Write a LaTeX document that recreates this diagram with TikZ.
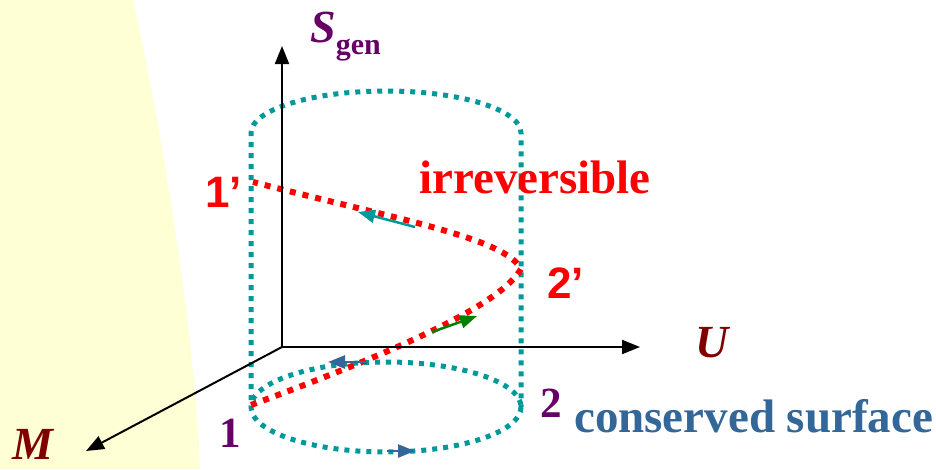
\documentclass[tikz,border=0pt]{standalone}
\usepackage{fontspec}
\setmainfont{Liberation Serif}
\newfontfamily\arialfont{Liberation Sans}
\usepackage{xcolor}
\usepackage{tikz}
\usetikzlibrary{positioning, arrows.meta, calc}

\definecolor{cylteal}{RGB}{0,153,153}
\definecolor{pathred}{RGB}{255,0,0}
\definecolor{stateviolet}{RGB}{102,0,102}
\definecolor{axisred}{RGB}{128,0,0}
\definecolor{surfblue}{RGB}{51,102,153}
\definecolor{fwdgreen}{RGB}{0,128,0}
\definecolor{paleyellow}{RGB}{255,255,213}

\begin{document}
\begin{tikzpicture}[
  x=1pt, y=-1pt,
  axis/.style={-{Triangle[length=18pt, width=14pt]}, line width=2pt},
  cylline/.style={cylteal, line width=5pt, dash pattern=on 5pt off 6pt},
  procline/.style={pathred, line width=6pt, dash pattern=on 6pt off 7pt},
  flow/.style={-{Triangle[length=17pt, width=13pt]}, line width=2.5pt},
  axislabel/.style={anchor=base west, inner sep=0pt, text=axisred, font=\fontsize{46}{46}\selectfont\bfseries\itshape},
  statelabel/.style={anchor=base west, inner sep=0pt, text=stateviolet, font=\fontsize{43}{43}\selectfont\bfseries},
  primelabel/.style={anchor=base west, inner sep=0pt, text=pathred, font=\arialfont\fontsize{44}{44}\selectfont\bfseries},
  bigtext/.style={anchor=base west, inner sep=0pt, font=\fontsize{47}{47}\selectfont\bfseries}
]
  \useasboundingbox (0,0) rectangle (936,469);
  \fill[paleyellow] (0,0) -- (133,0) .. controls (160,120) and (195,330) .. (200,469) -- (0,469) -- cycle;

  \coordinate (O) at (282,347);
  \coordinate (Stip) at (282,46);
  \coordinate (Utip) at (640,347);
  \coordinate (Mtip) at (86,451);

  \coordinate (s1) at (251,405);
  \coordinate (s2p) at (521,269);
  \coordinate (s1p) at (253,182);

  \draw[cylline] (251,400) -- (251,133) arc[start angle=180, end angle=0, x radius=135, y radius=-42] -- (521,407);
  \draw[cylline] (386,407) ellipse[x radius=135, y radius=45];

  \draw[procline] (s1) .. controls (400,350) and (500,305) .. (s2p)
                       .. controls (505,238) and (400,220) .. (s1p);

  \draw[axis] (O) -- (Stip);
  \draw[axis] (O) -- (Utip);
  \draw[axis] (O) -- (Mtip);

  \coordinate (backA) at (415,227);
  \coordinate (backB) at (358,212);
  \coordinate (fwdA) at (432,332);
  \coordinate (fwdB) at (477,316);
  \coordinate (topA) at (367,362);
  \coordinate (topB) at (328,362);
  \coordinate (botA) at (387,451);
  \coordinate (botB) at (415,451);
  \draw[flow, cylteal] (backA) -- (backB);
  \draw[flow, fwdgreen] (fwdA) -- (fwdB);
  \draw[flow, surfblue] (topA) -- (topB);
  \draw[flow, surfblue] (botA) -- (botB);

  \node[axislabel, text=stateviolet] (Slab) at (310,42) {S\raisebox{-12pt}{\fontsize{30}{30}\selectfont\upshape\bfseries gen}};
  \node[axislabel] (Ulab) at (695,357) {U};
  \node[axislabel] (Mlab) at (12,459) {M};

  \node[statelabel] (n1) at (219,447) {1};
  \node[statelabel] (n2) at (540,417) {2};
  \node[primelabel] (n1p) at (205,207) {1’};
  \node[primelabel] (n2p) at (547,298) {2’};

  \node[bigtext, text=pathred] (irr) at (419,193) {irreversible};
  \node[bigtext, text=surfblue] (surf) at (574,432) {conserved surface};
\end{tikzpicture}
\end{document}
